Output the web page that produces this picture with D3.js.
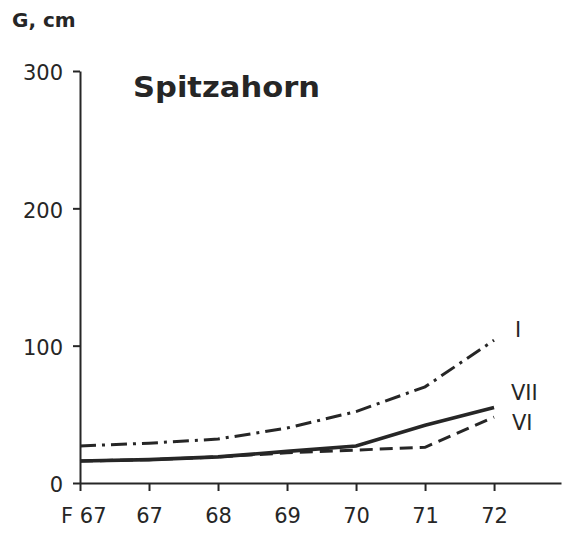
<!DOCTYPE html>
<html>
<head>
<meta charset="utf-8">
<script src="https://cdn.jsdelivr.net/npm/d3@7"></script>
<style>
  html, body { margin: 0; padding: 0; background: #fff; }
  text { font-family: "DejaVu Sans", sans-serif; fill: #262626; }
</style>
</head>
<body>
<div id="container"></div>
<script>
"use strict"

// values (G in cm)
const categories = ["F 67", "67", "68", "69", "70", "71", "72"];
const seriesI = [27, 29, 32, 40, 52, 70, 104];
const seriesVII = [16, 17, 19, 23, 27, 42, 55];
const seriesVI = [16, 17, 19, 22, 24, 26, 48];
const seriesNames = ["I", "VII", "VI"];
const yTicks = [0, 100, 200, 300];

const width = 565;
const height = 533;
const ink = "#262626";
const font = "'DejaVu Sans', sans-serif";

const x = d3.scaleLinear().domain([0, 6.97]).range([80, 561]);
const y = d3.scaleLinear().domain([0, 300]).range([483, 71]);

const svg = d3.select("#container").append("svg")
    .attr("width", width)
    .attr("height", height);

// y axis
const yAxis = svg.append("g")
    .attr("transform", `translate(${x(0)},0)`)
    .call(d3.axisLeft(y).tickValues(yTicks).tickSize(7).tickSizeOuter(0).tickPadding(10));

// x axis
const xAxis = svg.append("g")
    .attr("transform", `translate(0,${y(0)})`)
    .call(d3.axisBottom(x)
        .tickValues(d3.range(categories.length))
        .tickFormat(i => categories[i])
        .tickSize(8)
        .tickSizeOuter(0)
        .tickPadding(17));

[yAxis, xAxis].forEach(ax => {
    ax.select(".domain").attr("stroke", ink).attr("stroke-width", 2);
    ax.selectAll(".tick line").attr("stroke", ink).attr("stroke-width", 2);
    ax.selectAll("text")
        .attr("fill", ink)
        .style("font-size", "21px")
        .style("font-family", font);
});

yAxis.selectAll(".tick text").attr("dy", "0.42em");

// the first label carries the "F" prefix and sits right of its tick
xAxis.selectAll(".tick text")
    .filter(i => i === 0)
    .attr("text-anchor", "end")
    .attr("x", 26);

// lines
const line = d3.line()
    .x((d, i) => x(i))
    .y(d => y(d));

const series = [
    {name: seriesNames[0], values: seriesI, dash: "16,6,3,6", w: 3},
    {name: seriesNames[2], values: seriesVI, dash: "13,7", w: 3},
    {name: seriesNames[1], values: seriesVII, dash: null, w: 3.6}
];

svg.append("g")
    .selectAll("path")
    .data(series)
    .enter()
    .append("path")
    .attr("d", d => line(d.values))
    .attr("fill", "none")
    .attr("stroke", ink)
    .attr("stroke-width", d => d.w)
    .attr("stroke-dasharray", d => d.dash);

// series labels at the right ends
const labelPos = {"I": [515, 337], "VII": [511, 400], "VI": [512, 430]};
svg.append("g")
    .selectAll("text")
    .data(series)
    .enter()
    .append("text")
    .attr("x", d => labelPos[d.name][0])
    .attr("y", d => labelPos[d.name][1])
    .style("font-size", "21px")
    .text(d => d.name);

// title and axis unit
svg.append("text")
    .attr("x", 133)
    .attr("y", 97)
    .attr("textLength", 187)
    .attr("lengthAdjust", "spacingAndGlyphs")
    .style("font-size", "29px")
    .style("font-weight", "bold")
    .text("Spitzahorn");

svg.append("text")
    .attr("x", 12)
    .attr("y", 27)
    .style("font-size", "20px")
    .style("font-weight", "bold")
    .text("G, cm");
</script>
</body>
</html>
